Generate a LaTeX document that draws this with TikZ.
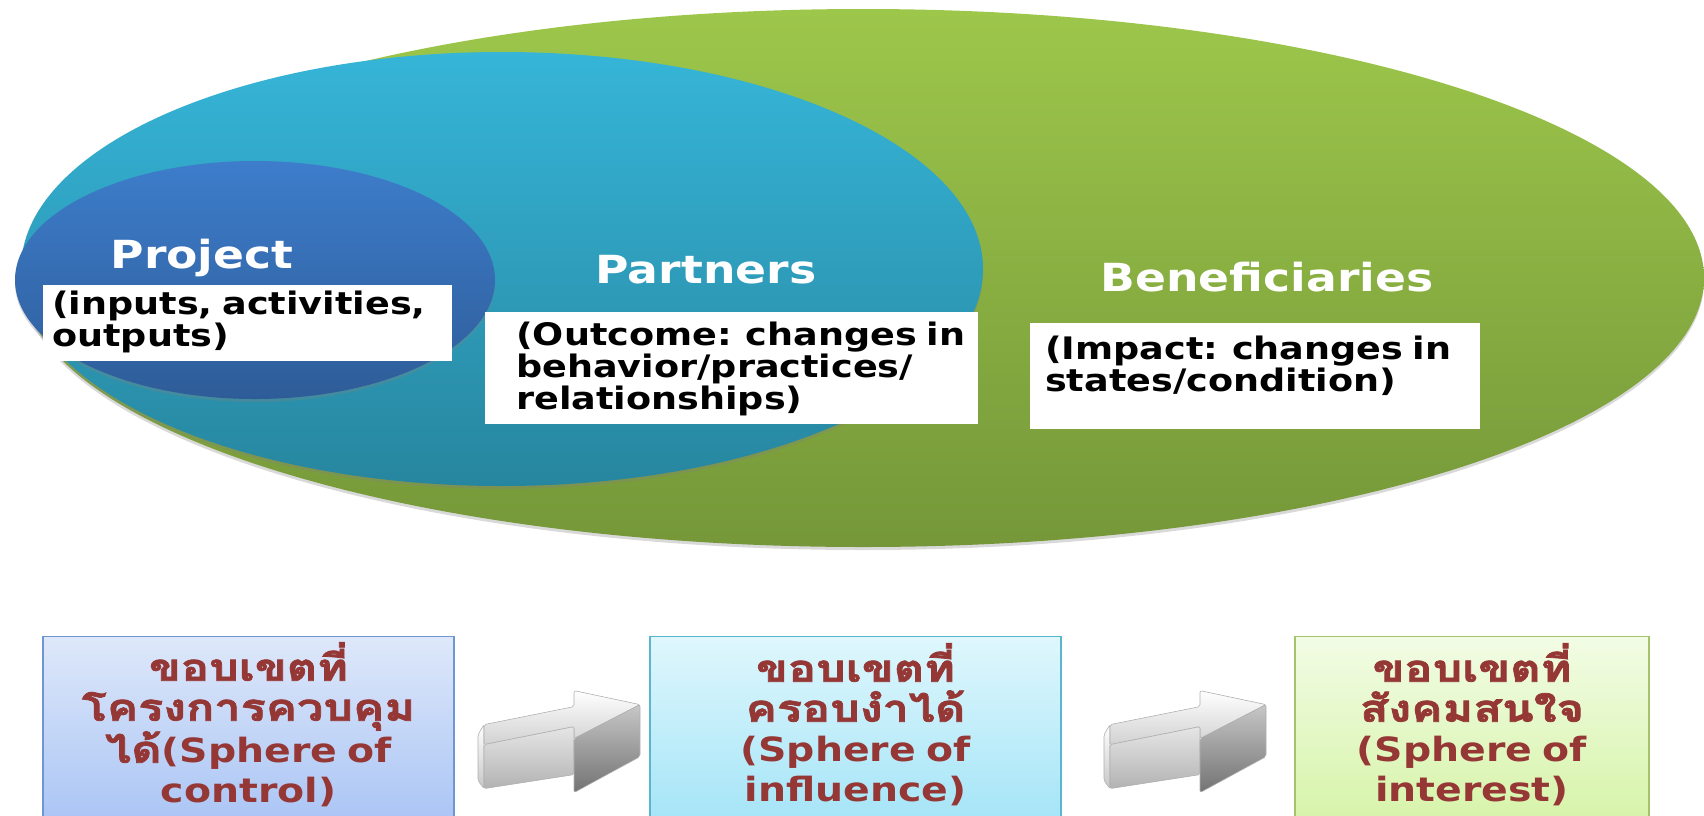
\documentclass[tikz,border=0pt]{standalone}
\usepackage{fontspec}
\setmainfont{DejaVu Sans}
\newfontfamily\headfont[FakeStretch=1.18,WordSpace=0.75]{DejaVu Sans}
\newfontfamily\thaifont[Script=Thai,FakeStretch=1.25,Scale=1.12,FakeBold=2]{Loma}
\usetikzlibrary{shapes.geometric,shadows,calc,positioning}

\definecolor{greenT}{HTML}{9DC74B}
\definecolor{greenB}{HTML}{759739}
\definecolor{tealT}{HTML}{36B5D8}
\definecolor{tealB}{HTML}{27869F}
\definecolor{blueT}{HTML}{3D7DCB}
\definecolor{blueB}{HTML}{2E5C98}
\definecolor{ctrlT}{HTML}{DEE8FA}
\definecolor{ctrlB}{HTML}{A6C2F4}
\definecolor{ctrlEdge}{HTML}{6F95D2}
\definecolor{inflT}{HTML}{DFF7FD}
\definecolor{inflB}{HTML}{A0E3F7}
\definecolor{inflEdge}{HTML}{5AB5CE}
\definecolor{interT}{HTML}{F2FCE5}
\definecolor{interB}{HTML}{D4F3A4}
\definecolor{interEdge}{HTML}{A5C36A}
\definecolor{thaired}{HTML}{953735}
\definecolor{arrowedge}{HTML}{B0B0B0}

\tikzset{
  sphere/.style={ellipse, inner sep=0pt,
    drop shadow={opacity=0.3, shadow xshift=0pt, shadow yshift=-3pt}},
  headlabel/.style={text=white, inner sep=0pt,
    font=\headfont\bfseries\fontsize{38.7}{42}\selectfont},
  whitebox/.style={fill=white, inner sep=0pt, anchor=north west},
  desctext/.style={align=left, inner sep=0pt, anchor=north west,
    font=\headfont\bfseries\fontsize{31}{32}\selectfont},
  spherebox/.style={draw, line width=1.2pt, inner sep=0pt, anchor=north,
    minimum height=200},
  spheretext/.style={text=thaired, align=center, inner sep=0pt,
    font=\headfont\bfseries\fontsize{33.4}{40}\selectfont}
}

% grey 3d arrow between two boxes
\newcommand{\blockarrow}[1]{%
  \begin{scope}[shift={(#1)}, xshift=10pt, draw=arrowedge, line width=0.6pt, rounded corners=2pt]
    \path[draw, top color=white, bottom color=black!22]
      (-78,-12) -- (-84,-2) -- (-84,44) -- (-78,52) -- (-78,8) -- cycle;
    \path[draw, top color=white, bottom color=black!18]
      (-78,-12) -- (12,-30) -- (12,-46) -- (78,-32) -- (12,2) -- (12,-10) -- (-78,8) -- cycle;
    \path[draw, top color=black!10, bottom color=black!30]
      (-78,8) -- (12,-10) -- (12,38) -- (-78,52) -- cycle;
    \path[draw, top color=black!22, bottom color=black!55]
      (12,2) -- (78,-32) -- (78,20) -- (12,56) -- cycle;
  \end{scope}}

\begin{document}
\begin{tikzpicture}[x=1pt, y=-1pt]
  \useasboundingbox (0,0) rectangle (1704,815);
  \clip (0,0) rectangle (1704,815);

  % spheres
  \node[sphere, top color=greenT, bottom color=greenB, minimum width=1682, minimum height=538] (benef) at (863,278) {};
  \node[sphere, top color=tealT, bottom color=tealB, minimum width=962, minimum height=434] (partner) at (502,269) {};
  \node[sphere, top color=blueT, bottom color=blueB, minimum width=480, minimum height=238] (project) at (255,280) {};

  \node[headlabel] (projlabel) at (202,258) {Project};
  \node[headlabel] (partlabel) at (706,270) {Partners};
  \node[headlabel] (beneflabel) at (1267,277) {Beneficiaries};

  % description boxes
  \node[whitebox, minimum width=409, minimum height=76] (projbox) at (43,285) {};
  \node[desctext] (projdesc) at ([xshift=9pt, yshift=-6pt]projbox.north west) {(inputs, activities,\\outputs)};
  \node[whitebox, minimum width=493, minimum height=112] (partbox) at (485,312) {};
  \node[desctext] (partdesc) at ([xshift=31pt, yshift=-10pt]partbox.north west) {(Outcome: changes in\\behavior/practices/\\relationships)};
  \node[whitebox, minimum width=450, minimum height=106] (benefbox) at (1030,323) {};
  \node[desctext] (benefdesc) at ([xshift=15pt, yshift=-13pt]benefbox.north west) {(Impact: changes in\\states/condition)};

  % spheres of control, influence, interest
  \node[spherebox, draw=ctrlEdge, top color=ctrlT, bottom color=ctrlB, minimum width=411] (ctrlbox) at (248.5,636) {};
  \node[spherebox, draw=inflEdge, top color=inflT, bottom color=inflB, minimum width=411] (inflbox) at (855.5,636) {};
  \node[spherebox, draw=interEdge, top color=interT, bottom color=interB, minimum width=354] (interbox) at (1472,636) {};

  \node[spheretext] (ctrltext) at ([yshift=12pt]ctrlbox.center) {{\thaifont ขอบเขตที่}\\{\thaifont โครงการควบคุม}\\{\thaifont ได้}(Sphere of\\control)};
  \node[spheretext] (infltext) at ([yshift=12pt]inflbox.center) {{\thaifont ขอบเขตที่}\\{\thaifont ครอบงำได้}\\(Sphere of\\influence)};
  \node[spheretext] (intertext) at ([yshift=12pt]interbox.center) {{\thaifont ขอบเขตที่}\\{\thaifont สังคมสนใจ}\\(Sphere of\\interest)};

  \blockarrow{$(ctrlbox.east)!0.5!(inflbox.west)$}
  \blockarrow{$(inflbox.east)!0.5!(interbox.west)$}
\end{tikzpicture}
\end{document}
